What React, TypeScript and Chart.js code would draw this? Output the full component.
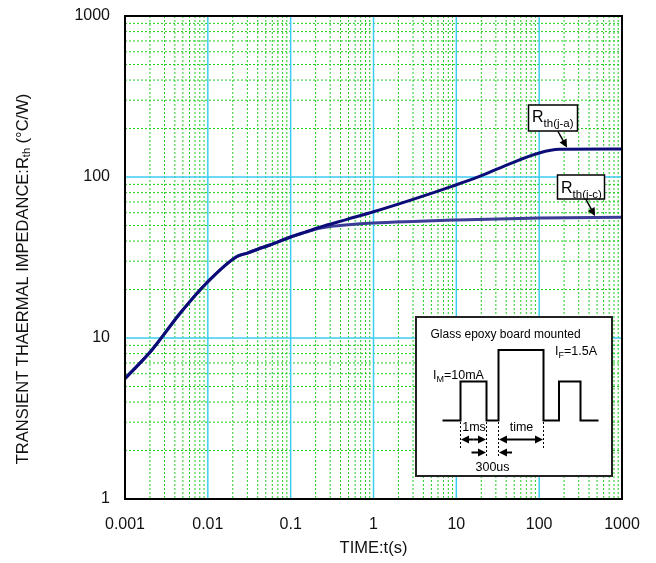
import React, { useEffect, useRef } from "react";
import { Chart, registerables } from "chart.js";

Chart.register(...registerables);

// ---- data ----
const timeJA = [0.001, 0.0021, 0.0046, 0.0096, 0.0222, 0.03, 0.04, 0.056, 0.1, 0.15, 0.22, 0.47, 1, 3, 9, 19, 48, 100, 175, 1000];
const rthJA = [5.6, 8.4, 14.2, 21.9, 32, 33.7, 35.6, 37.8, 42.4, 45.5, 48.6, 54.4, 60.8, 72.6, 87.8, 100.8, 123, 141, 148.5, 149];
const timeJC = [0.001, 0.0021, 0.0046, 0.0096, 0.0222, 0.03, 0.04, 0.056, 0.1, 0.15, 0.22, 0.3, 0.5, 1, 3, 9, 100, 1000];
const rthJC = [5.6, 8.4, 14.2, 21.9, 32, 33.7, 35.6, 37.8, 42.4, 45.3, 48, 49.3, 50.6, 51.8, 53, 54, 55.7, 56.2];

const xTicks = [0.001, 0.01, 0.1, 1, 10, 100, 1000];
const xTickLabels = ["0.001", "0.01", "0.1", "1", "10", "100", "1000"];
const yTicks = [1, 10, 100, 1000];
const yTickLabels = ["1", "10", "100", "1000"];
const minorMultiples = [2, 3, 4, 5, 6, 7, 8, 9];

const FAMILY = '"Liberation Sans", Arial, Helvetica, sans-serif';
const f = (size: number) => `${size}px ${FAMILY}`;

function arrowHead(ctx: CanvasRenderingContext2D, x1: number, y1: number, x2: number, y2: number, len = 8, half = 4) {
  const a = Math.atan2(y2 - y1, x2 - x1);
  ctx.beginPath();
  ctx.moveTo(x2, y2);
  ctx.lineTo(x2 - len * Math.cos(a) + half * Math.sin(a), y2 - len * Math.sin(a) - half * Math.cos(a));
  ctx.lineTo(x2 - len * Math.cos(a) - half * Math.sin(a), y2 - len * Math.sin(a) + half * Math.cos(a));
  ctx.closePath();
  ctx.fill();
}

function arrow(ctx: CanvasRenderingContext2D, x1: number, y1: number, x2: number, y2: number, len = 8, half = 4) {
  const a = Math.atan2(y2 - y1, x2 - x1);
  ctx.beginPath();
  ctx.moveTo(x1, y1);
  ctx.lineTo(x2 - (len - 1) * Math.cos(a), y2 - (len - 1) * Math.sin(a));
  ctx.stroke();
  arrowHead(ctx, x1, y1, x2, y2, len, half);
}

function subText(ctx: CanvasRenderingContext2D, x: number, y: number, main: string, mainSize: number, sub: string, subSize: number, subDy: number, tail = "") {
  ctx.font = f(mainSize);
  ctx.fillText(main, x, y);
  let cx = x + ctx.measureText(main).width;
  ctx.font = f(subSize);
  ctx.fillText(sub, cx, y + subDy);
  cx += ctx.measureText(sub).width;
  if (tail) {
    ctx.font = f(mainSize);
    ctx.fillText(tail, cx, y);
  }
}

const gridPlugin = {
  id: "customGrid",
  beforeDatasetsDraw(chart: any) {
    const { ctx, chartArea: a, scales } = chart;
    const xs = scales.x;
    const ys = scales.y;
    ctx.save();
    ctx.fillStyle = "#fff";
    ctx.fillRect(a.left, a.top, a.width, a.height);
    // minor grid
    ctx.strokeStyle = "#22cc22";
    ctx.lineWidth = 1;
    ctx.setLineDash([2, 2]);
    for (let i = 0; i < xTicks.length - 1; i++) {
      for (const m of minorMultiples) {
        const px = xs.getPixelForValue(xTicks[i] * m);
        ctx.beginPath();
        ctx.moveTo(px, a.top);
        ctx.lineTo(px, a.bottom);
        ctx.stroke();
      }
    }
    for (let i = 0; i < yTicks.length - 1; i++) {
      for (const m of minorMultiples) {
        const py = ys.getPixelForValue(yTicks[i] * m);
        ctx.beginPath();
        ctx.moveTo(a.left, py);
        ctx.lineTo(a.right, py);
        ctx.stroke();
      }
    }
    // major grid
    ctx.setLineDash([]);
    ctx.strokeStyle = "#3ccdf2";
    ctx.lineWidth = 1.5;
    for (let i = 1; i < xTicks.length - 1; i++) {
      const px = xs.getPixelForValue(xTicks[i]);
      ctx.beginPath();
      ctx.moveTo(px, a.top);
      ctx.lineTo(px, a.bottom);
      ctx.stroke();
    }
    for (let i = 1; i < yTicks.length - 1; i++) {
      const py = ys.getPixelForValue(yTicks[i]);
      ctx.beginPath();
      ctx.moveTo(a.left, py);
      ctx.lineTo(a.right, py);
      ctx.stroke();
    }
    ctx.restore();
  },
};

const overlayPlugin = {
  id: "overlay",
  afterDatasetsDraw(chart: any) {
    const { ctx, chartArea: a } = chart;
    ctx.save();
    // plot border
    ctx.strokeStyle = "#000";
    ctx.lineWidth = 2;
    ctx.strokeRect(a.left, a.top, a.right - a.left, a.bottom - a.top);

    ctx.fillStyle = "#000";
    ctx.textBaseline = "alphabetic";

    // Label boxes
    ctx.lineWidth = 1.5;
    ctx.fillStyle = "#fff";
    ctx.fillRect(528.5, 105, 49, 26);
    ctx.strokeRect(528.5, 105, 49, 26);
    ctx.fillRect(557.5, 175, 47, 24);
    ctx.strokeRect(557.5, 175, 47, 24);
    ctx.fillStyle = "#000";
    ctx.textAlign = "left";
    subText(ctx, 532, 122, "R", 16, "th(j-a)", 11.5, 5);
    subText(ctx, 561, 193, "R", 16, "th(j-c)", 11.5, 5);
    ctx.lineWidth = 1.5;
    arrow(ctx, 558, 131.5, 567, 147.5, 8, 4);
    arrow(ctx, 586, 199.5, 595, 216, 8, 4);

    // Inset
    const bx = 416, by = 317, bw = 196, bh = 159;
    ctx.fillStyle = "#fff";
    ctx.fillRect(bx, by, bw, bh);
    ctx.strokeStyle = "#222";
    ctx.lineWidth = 2;
    ctx.strokeRect(bx, by, bw, bh);
    ctx.fillStyle = "#000";
    ctx.font = f(12);
    ctx.fillText("Glass epoxy board mounted", 430.5, 338);

    // waveform
    const base = 420.5, lo = 381.5, hi = 350;
    const wave: [number, number][] = [
      [442.5, base], [460.5, base], [460.5, lo], [486.5, lo], [486.5, base], [498.5, base], [498.5, hi],
      [543.5, hi], [543.5, base], [559, base], [559, lo], [580.5, lo], [580.5, base], [598.5, base],
    ];
    ctx.strokeStyle = "#000";
    ctx.lineWidth = 2;
    ctx.beginPath();
    wave.forEach(([x, y], i) => (i ? ctx.lineTo(x, y) : ctx.moveTo(x, y)));
    ctx.stroke();

    subText(ctx, 433, 379, "I", 12.5, "M", 9, 3, "=10mA");
    subText(ctx, 555, 355, "I", 12.5, "F", 9, 3, "=1.5A");

    // dotted guides
    ctx.lineWidth = 1;
    ctx.setLineDash([2, 2]);
    const guides: [number, number][] = [[460.5, 450], [486.5, 458], [498.5, 458], [543.5, 450]];
    for (const [gx, gy] of guides) {
      ctx.beginPath();
      ctx.moveTo(gx, 422);
      ctx.lineTo(gx, gy);
      ctx.stroke();
    }
    ctx.setLineDash([]);

    ctx.textAlign = "center";
    ctx.font = f(12.5);
    ctx.fillText("1ms", 474, 430.5);
    ctx.fillText("time", 521.5, 430.5);
    ctx.fillText("300us", 492.5, 470.5);

    ctx.lineWidth = 2;
    const r1 = 439.5;
    arrow(ctx, 473.5, r1, 461, r1, 8, 4);
    arrow(ctx, 473.5, r1, 486, r1, 8, 4);
    arrow(ctx, 521, r1, 499, r1, 8, 4);
    arrow(ctx, 521, r1, 543, r1, 8, 4);
    const r2 = 452.5;
    arrow(ctx, 471.5, r2, 486, r2, 8, 4);
    arrow(ctx, 512, r2, 499, r2, 8, 4);

    // axis titles
    ctx.fillStyle = "#111";
    ctx.textAlign = "center";
    ctx.textBaseline = "middle";
    ctx.font = f(16.5);
    ctx.fillText("TIME:t(s)", (a.left + a.right) / 2, 548);

    // y title rotated
    ctx.save();
    ctx.translate(23, 279);
    ctx.rotate(-Math.PI / 2);
    ctx.textAlign = "left";
    ctx.textBaseline = "middle";
    const m1 = "TRANSIENT THAERMAL IMPEDANCE:R";
    const s1 = "th";
    const m2 = " (°C/W)";
    ctx.font = f(16.5);
    const w1 = ctx.measureText(m1).width;
    const w3 = ctx.measureText(m2).width;
    ctx.font = f(11);
    const w2 = ctx.measureText(s1).width;
    const total = w1 + w2 + w3;
    let cx = -total / 2;
    ctx.font = f(16.5);
    ctx.fillText(m1, cx, 0);
    cx += w1;
    ctx.font = f(11);
    ctx.fillText(s1, cx, 4);
    cx += w2;
    ctx.font = f(16.5);
    ctx.fillText(m2, cx, 0);
    ctx.restore();

    ctx.restore();
  },
};

export default function App() {
  const ref = useRef<HTMLCanvasElement | null>(null);
  useEffect(() => {
    const canvas = ref.current;
    if (!canvas) return;
    const chart = new Chart(canvas, {
      type: "line",
      data: {
        datasets: [
          {
            label: "Rth(j-a)",
            data: timeJA.map((t, i) => ({ x: t, y: rthJA[i] })),
            borderColor: "#0c0c78",
            borderWidth: 3,
            pointRadius: 0,
            fill: false,
            cubicInterpolationMode: "monotone",
          },
          {
            label: "Rth(j-c)",
            data: timeJC.map((t, i) => ({ x: t, y: rthJC[i] })),
            borderColor: "#3b3b98",
            borderWidth: 3,
            pointRadius: 0,
            fill: false,
            cubicInterpolationMode: "monotone",
          },
        ],
      },
      options: {
        animation: false,
        responsive: false,
        devicePixelRatio: 1,
        layout: { padding: { left: 0, right: 34, top: 16, bottom: 0 } },
        plugins: { legend: { display: false }, tooltip: { enabled: false } },
        scales: {
          x: {
            type: "logarithmic",
            min: 0.001,
            max: 1000,
            position: "bottom",
            afterBuildTicks: (s: any) => {
              s.ticks = xTicks.map((v) => ({ value: v }));
            },
            afterFit: (s: any) => {
              s.height = 64;
              s.paddingLeft = 0;
              s.paddingRight = 0;
            },
            ticks: {
              callback: (_v: any, i: number) => xTickLabels[i],
              autoSkip: false,
              maxRotation: 0,
              minRotation: 0,
              font: { size: 16, family: FAMILY },
              color: "#111",
              padding: 16,
            },
            grid: { display: false, drawTicks: false },
            border: { display: false },
          },
          y: {
            type: "logarithmic",
            min: 1,
            max: 1000,
            afterBuildTicks: (s: any) => {
              s.ticks = yTicks.map((v) => ({ value: v }));
            },
            afterFit: (s: any) => {
              s.width = 125;
              s.paddingTop = 0;
              s.paddingBottom = 0;
            },
            ticks: {
              callback: (_v: any, i: number) => yTickLabels[i],
              autoSkip: false,
              font: { size: 16, family: FAMILY },
              color: "#111",
              padding: 15,
            },
            grid: { display: false, drawTicks: false },
            border: { display: false },
          },
        },
      } as any,
      plugins: [gridPlugin, overlayPlugin],
    });
    return () => chart.destroy();
  }, []);
  return (
    <div style={{ position: "absolute", left: 0, top: 0, width: 656, height: 563, background: "#fff" }}>
      <canvas ref={ref} width={656} height={563} style={{ width: 656, height: 563, display: "block" }} />
    </div>
  );
}
